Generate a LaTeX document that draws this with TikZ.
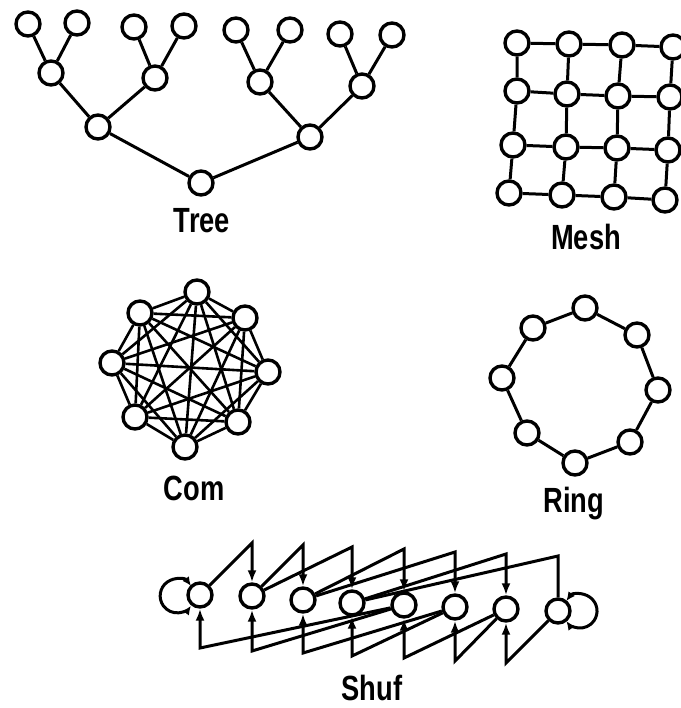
\documentclass[tikz,border=0pt]{standalone}
\usepackage{fontspec}
\setmainfont[FakeStretch=0.78]{Liberation Sans}
\usetikzlibrary{arrows.meta}
\begin{document}
\begin{tikzpicture}[x=1pt,y=-1pt,
  vtx/.style={circle,draw,fill=white,line width=3.4pt,minimum size=24pt,inner sep=0pt},
  link/.style={line width=3pt},
  comlink/.style={line width=2.6pt},
  arr/.style={link,-{Latex[length=12pt,width=9pt]}},
  looparr/.style={link,{Latex[length=9pt,width=8pt]}-{Latex[length=9pt,width=8pt]}},
  lbl/.style={font=\fontsize{35}{40}\selectfont\bfseries,inner sep=0pt,anchor=base}]
\useasboundingbox (0,0) rectangle (680,708);

% ---------------- Tree ----------------
\node[vtx] (t1) at (28,24) {};
\node[vtx] (t2) at (77,23) {};
\node[vtx] (t3) at (134,27) {};
\node[vtx] (t4) at (184,26) {};
\node[vtx] (t5) at (236,30) {};
\node[vtx] (t6) at (290,30) {};
\node[vtx] (t7) at (340,34) {};
\node[vtx] (t8) at (392,35) {};
\node[vtx] (m1) at (51,73) {};
\node[vtx] (m2) at (155,78) {};
\node[vtx] (m3) at (260,82) {};
\node[vtx] (m4) at (362,86) {};
\node[vtx] (u1) at (98,127) {};
\node[vtx] (u2) at (310,137) {};
\node[vtx] (rt) at (201,183) {};
\draw[link] (t1)--(m1) (t2)--(m1) (t3)--(m2) (t4)--(m2)
            (t5)--(m3) (t6)--(m3) (t7)--(m4) (t8)--(m4)
            (m1)--(u1) (m2)--(u1) (m3)--(u2) (m4)--(u2)
            (u1)--(rt) (u2)--(rt);
\node[lbl] (treelbl) at (202,233) {Tree};

% ---------------- Mesh ----------------
\node[vtx] (g11) at (517,43) {};
\node[vtx] (g12) at (569,44) {};
\node[vtx] (g13) at (622,45) {};
\node[vtx] (g14) at (673,47) {};
\node[vtx] (g21) at (517,91) {};
\node[vtx] (g22) at (567,94) {};
\node[vtx] (g23) at (618,96) {};
\node[vtx] (g24) at (670,97) {};
\node[vtx] (g31) at (513,145) {};
\node[vtx] (g32) at (566,147) {};
\node[vtx] (g33) at (617,148) {};
\node[vtx] (g34) at (668,150) {};
\node[vtx] (g41) at (509,193) {};
\node[vtx] (g42) at (562,195) {};
\node[vtx] (g43) at (614,197) {};
\node[vtx] (g44) at (665,200) {};
\foreach \r in {1,...,4}{
  \draw[link] (g\r1)--(g\r2) (g\r2)--(g\r3) (g\r3)--(g\r4);}
\foreach \c in {1,...,4}{
  \draw[link] (g1\c)--(g2\c) (g2\c)--(g3\c) (g3\c)--(g4\c);}
\node[lbl] (meshlbl) at (586,250) {Mesh};

% ---------------- Com ----------------
\node[vtx] (c1) at (197,292) {};
\node[vtx] (c2) at (245,318) {};
\node[vtx] (c3) at (268,372) {};
\node[vtx] (c4) at (238,422) {};
\node[vtx] (c5) at (185,447) {};
\node[vtx] (c6) at (135,417) {};
\node[vtx] (c7) at (112,363) {};
\node[vtx] (c8) at (140,313) {};
\foreach \i in {1,...,7}{
  \pgfmathtruncatemacro{\k}{\i+1}
  \foreach \j in {\k,...,8}{\draw[comlink] (c\i)--(c\j);}}
\node[lbl] (comlbl) at (194,500) {Com};

% ---------------- Ring ----------------
\node[vtx] (q1) at (585,308) {};
\node[vtx] (q2) at (637,335) {};
\node[vtx] (q3) at (658,390) {};
\node[vtx] (q4) at (630,442) {};
\node[vtx] (q5) at (575,463) {};
\node[vtx] (q6) at (527,433) {};
\node[vtx] (q7) at (502,378) {};
\node[vtx] (q8) at (533,328) {};
\draw[link] (q1)--(q2) (q2)--(q3) (q3)--(q4) (q4)--(q5)
            (q5)--(q6) (q6)--(q7) (q7)--(q8) (q8)--(q1);
\node[lbl] (ringlbl) at (574,512) {Ring};

% ---------------- Shuffle ----------------
\node[vtx] (s0) at (200,595) {};
\node[vtx] (s1) at (252,596) {};
\node[vtx] (s2) at (303,600) {};
\node[vtx] (s3) at (352,603) {};
\node[vtx] (s4) at (404,605) {};
\node[vtx] (s5) at (455,607) {};
\node[vtx] (s6) at (506,609) {};
\node[vtx] (s7) at (558,611) {};
\coordinate (a1) at (252,543);
\coordinate (a2) at (303,545);
\coordinate (a3) at (352,547);
\coordinate (a4) at (404,549);
\coordinate (a5) at (455,552);
\coordinate (a6) at (506,554);
\coordinate (a7) at (558,556);
\coordinate (b0) at (200,648);
\coordinate (b1) at (252,651);
\coordinate (b2) at (303,653);
\coordinate (b3) at (352,656);
\coordinate (b4) at (404,658);
\coordinate (b5) at (455,661);
\coordinate (b6) at (506,663);
% upper routes
\draw[arr] (s0)--(a1)--(s1);
\draw[arr] (s1)--(a2)--(s2);
\draw[arr] (s1)--(a3)--(s3);
\draw[arr] (s2)--(a4)--(s4);
\draw[arr] (s2)--(a5)--(s5);
\draw[arr] (s3)--(a6)--(s6);
\draw[link] (s3)--(a7)--(s7);
% lower routes
\draw[arr] (s4)--(b0)--(s0);
\draw[arr] (s4)--(b1)--(s1);
\draw[arr] (s5)--(b2)--(s2);
\draw[arr] (s5)--(b3)--(s3);
\draw[arr] (s6)--(b4)--(s4);
\draw[arr] (s6)--(b5)--(s5);
\draw[arr] (s7)--(b6)--(s6);
% self loops
\draw[looparr] (191,586) arc[start angle=-35.5,end angle=-324.5,radius=17];
\draw[looparr] (566.3,601) arc[start angle=216.1,end angle=503.9,radius=17];
\node[lbl] (shuflbl) at (372,700) {Shuf};
\end{tikzpicture}
\end{document}
